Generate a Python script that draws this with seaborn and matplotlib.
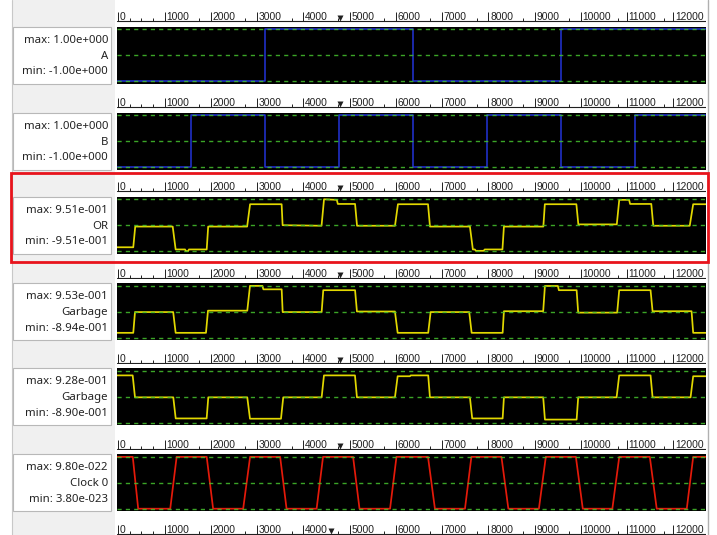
import matplotlib
matplotlib.use("Agg")
import matplotlib.pyplot as plt
from matplotlib import font_manager
from matplotlib.patches import Rectangle
import seaborn as sns
import pandas as pd

sns.set_theme(style="white")
plt.rcParams["font.family"] = ["Noto Sans", "DejaVu Sans"]

W, H = 717, 535

# ---------------------------------------------------------------- data
T_END = 11950

ruler_major = [0, 1000, 2000, 3000, 4000, 5000, 6000, 7000, 8000, 9000, 10000, 11000, 12000]
ruler_minor = [250, 500, 750, 1750, 2750, 3750, 4750, 5750, 6750, 7750, 8750, 9750, 10800, 11800]
ruler_marker = 4800

names = ["A", "B", "OR", "Garbage", "Garbage", "Clock 0"]
max_vals = [1.00, 1.00, 0.951, 0.953, 0.928, 9.80e-22]
min_vals = [-1.00, -1.00, -0.951, -0.894, -0.890, 3.80e-23]

a_t = [0, 3000, 3000, 6000, 6000, 9000, 9000, T_END]
a_v = [-1, -1, 1, 1, -1, -1, 1, 1]

b_t = [0, 1500, 1500, 3000, 3000, 4500, 4500, 6000, 6000, 7500, 7500, 9000, 9000,
       10500, 10500, T_END]
b_v = [-1, -1, 1, 1, -1, -1, 1, 1, -1, -1, 1, 1, -1, -1, 1, 1]

or_t = [0, 330, 370, 1130, 1190, 1380, 1400, 1440, 1460, 1820, 1850, 2640, 2700,
        3340, 3360, 4150, 4200, 4460, 4480, 4830, 4870, 5640, 5700, 6310, 6350,
        7160, 7220, 7260, 7280, 7440, 7460, 7820, 7850, 8650, 8680, 9320, 9360,
        10140, 10190, 10390, 10410, 10840, 10880, 11620, 11690, T_END]
or_v = [-0.81, -0.81, -0.05, -0.05, -0.89, -0.89, -0.951, -0.951, -0.89, -0.89,
        -0.05, -0.05, 0.77, 0.77, 0.00, -0.02, 0.951, 0.93, 0.78, 0.78, -0.02,
        -0.02, 0.77, 0.77, -0.05, -0.05, -0.89, -0.89, -0.94, -0.94, -0.89, -0.89,
        -0.05, -0.05, 0.77, 0.77, 0.03, 0.03, 0.93, 0.93, 0.78, 0.78, -0.02,
        -0.02, 0.77, 0.77]

g1_t = [0, 330, 365, 1140, 1190, 1805, 1846, 2643, 2698, 2950, 2970, 3341, 3361,
        4152, 4185, 4830, 4868, 5639, 5694, 6314, 6363, 7146, 7195, 7824, 7850,
        8647, 8682, 8945, 8965, 9325, 9357, 10148, 10189, 10825, 10866, 11657,
        11690, T_END]
g1_v = [-0.72, -0.72, 0.02, 0.02, -0.72, -0.72, 0.07, 0.07, 0.953, 0.953, 0.83,
        0.83, 0.02, 0.02, 0.80, 0.80, 0.04, 0.04, -0.72, -0.72, 0.02, 0.02, -0.72,
        -0.72, 0.05, 0.05, 0.95, 0.95, 0.80, 0.80, 0.00, 0.00, 0.80, 0.80, 0.05,
        0.05, -0.72, -0.72]

g2_t = [0, 318, 365, 1142, 1191, 1819, 1852, 2643, 2698, 3327, 3373, 4152, 4199,
        4828, 4868, 5639, 5694, 5943, 5960, 6314, 6349, 7160, 7207, 7824, 7850,
        8647, 8682, 9325, 9357, 10136, 10189, 10825, 10866, 11637, 11690, T_END]
g2_v = [0.77, 0.77, 0.00, 0.00, -0.74, -0.74, 0.00, 0.00, -0.75, -0.75, 0.00,
        0.00, 0.77, 0.77, 0.00, 0.00, 0.74, 0.74, 0.77, 0.77, 0.00, 0.00, -0.74,
        -0.74, 0.00, 0.00, -0.78, -0.78, 0.00, 0.00, 0.77, 0.77, 0.00, 0.00, 0.74,
        0.74]

CLK_HI, CLK_LO = 9.80e-22, 3.80e-23
clk_t = [0, 320, 430, 1080, 1210, 1820, 1950, 2560, 2700, 3310, 3440, 4050, 4180,
         4790, 4920, 5540, 5670, 6310, 6450, 7060, 7190, 7800, 7940, 8560, 8700,
         9310, 9450, 10050, 10190, 10810, 10950, 11560, 11690, T_END]
clk_v = [CLK_HI, CLK_HI, CLK_LO, CLK_LO, CLK_HI, CLK_HI, CLK_LO, CLK_LO,
         CLK_HI, CLK_HI, CLK_LO, CLK_LO, CLK_HI, CLK_HI, CLK_LO, CLK_LO,
         CLK_HI, CLK_HI, CLK_LO, CLK_LO, CLK_HI, CLK_HI, CLK_LO, CLK_LO,
         CLK_HI, CLK_HI, CLK_LO, CLK_LO, CLK_HI, CLK_HI, CLK_LO, CLK_LO,
         CLK_HI, CLK_HI]

traces = [(a_t, a_v), (b_t, b_v), (or_t, or_v), (g1_t, g1_v), (g2_t, g2_v), (clk_t, clk_v)]
colors = ["#2233d8", "#2233d8", "#e2d800", "#e2d800", "#e2d800", "#e41a0a"]
widths = [1.1, 1.1, 1.25, 1.25, 1.25, 1.25]

# ---------------------------------------------------------------- layout
PLOT_L, PLOT_R = 117, 706
PANEL_H = 57
panel_tops = [26.7, 112.7, 196.7, 283.3, 368.3, 454.3]
ruler_tops = [t - 17 for t in panel_tops] + [454.3 + 85.5 - 17]
BOX_L, BOX_R = 13, 111

# ruler scale: "0" sits 1.3 px right of the plot edge, 0.04625 px per unit
R_MIN = -28
R_MAX = R_MIN + (PLOT_R - PLOT_L) / 0.04625

fams = {f.name for f in font_manager.fontManager.ttflist}
ruler_font = ["Liberation Sans Narrow", "Liberation Sans", "DejaVu Sans"]
ruler_font = [f for f in ruler_font if f in fams] or ["DejaVu Sans"]


def px_rect(x, y, w, h):
    return [x / W, 1 - (y + h) / H, w / W, h / H]


def sci(v):
    if v == 0:
        return "0.00e+000"
    s = f"{v:.2e}"
    mant, exp = s.split("e")
    e = int(exp)
    return f"{mant}e{'+' if e >= 0 else '-'}{abs(e):03d}"


fig = plt.figure(figsize=(W / 100, H / 100), dpi=100)
fig.patch.set_facecolor("white")

bg = fig.add_axes([0, 0, 1, 1])
bg.set_xlim(0, W)
bg.set_ylim(H, 0)
bg.axis("off")
bg.add_patch(Rectangle((12, 0), PLOT_L - 2 - 12, H, facecolor="#f0f0f0", edgecolor="none"))
bg.plot([12, 12], [0, H], color="#c8c8c8", lw=0.8)
bg.plot([708, 708], [0, H], color="#b0b0b0", lw=1.0)

GREEN = "#46c22e"

for i, (tt, vv) in enumerate(traces):
    top = panel_tops[i]
    vmax, vmin = max_vals[i], min_vals[i]
    span = vmax - vmin
    ax = fig.add_axes(px_rect(PLOT_L, top, PLOT_R - PLOT_L, PANEL_H))
    ax.set_facecolor("black")
    ax.set_xlim(0, T_END)
    ax.set_ylim(vmin - 0.05 * span, vmax + 0.05 * span)
    df = pd.DataFrame({"t": tt, "v": vv})
    sns.lineplot(data=df, x="t", y="v", ax=ax, color=colors[i], lw=widths[i],
                 estimator=None, sort=False, legend=False, zorder=2)
    # reference levels: max, centre, min (drawn over the trace)
    for lvl in (vmax, (vmax + vmin) / 2, vmin):
        ax.axhline(lvl, color=GREEN, lw=1.0, alpha=0.85,
                   linestyle=(0, (3.0, 3.0)), zorder=3)
    ax.set_xticks([])
    ax.set_yticks([])
    ax.set_xlabel("")
    ax.set_ylabel("")
    for s in ax.spines.values():
        s.set_visible(False)

    # label box
    bg.add_patch(Rectangle((BOX_L, top), BOX_R - BOX_L, PANEL_H, facecolor="white",
                           edgecolor="#b8b8b8", lw=0.8))
    bg.text(BOX_R - 3, top + 13.5, f"max: {sci(vmax)}", ha="right", va="center",
            fontsize=8.2, color="#222222")
    bg.text(BOX_R - 3, top + 29.5, names[i], ha="right", va="center",
            fontsize=8.2, color="#222222")
    bg.text(BOX_R - 3, top + 45, f"min: {sci(vmin)}", ha="right", va="center",
            fontsize=8.2, color="#222222")

for j, rt in enumerate(ruler_tops):
    rax = fig.add_axes(px_rect(PLOT_L, rt, PLOT_R - PLOT_L, 13))
    rax.set_xlim(R_MIN, R_MAX)
    rax.set_ylim(0, 13)
    rax.axis("off")
    rax.axhline(1.5, color="#202020", lw=0.8)
    rax.vlines(ruler_major, 1.5, 10.5, color="#202020", lw=0.7)
    rax.vlines(ruler_minor, 1.5, 4.5, color="#202020", lw=0.7)
    for r in ruler_major:
        rax.text(r + 37, 2.6, f"{r}", ha="left", va="baseline", fontsize=7.4,
                 family=ruler_font, color="#202020")
    mx = ruler_marker if j < 6 else ruler_marker - 200
    rax.plot([mx], [4.5], marker="v", ms=4.5, color="#202020", mec="none")

ov = fig.add_axes([0, 0, 1, 1])
ov.set_xlim(0, W)
ov.set_ylim(H, 0)
ov.axis("off")
ov.patch.set_alpha(0)
ov.add_patch(Rectangle((10.5, 172.5), 697, 89, facecolor="none", edgecolor="#e8141c", lw=2.0))

fig.savefig("out.png", dpi=100)
